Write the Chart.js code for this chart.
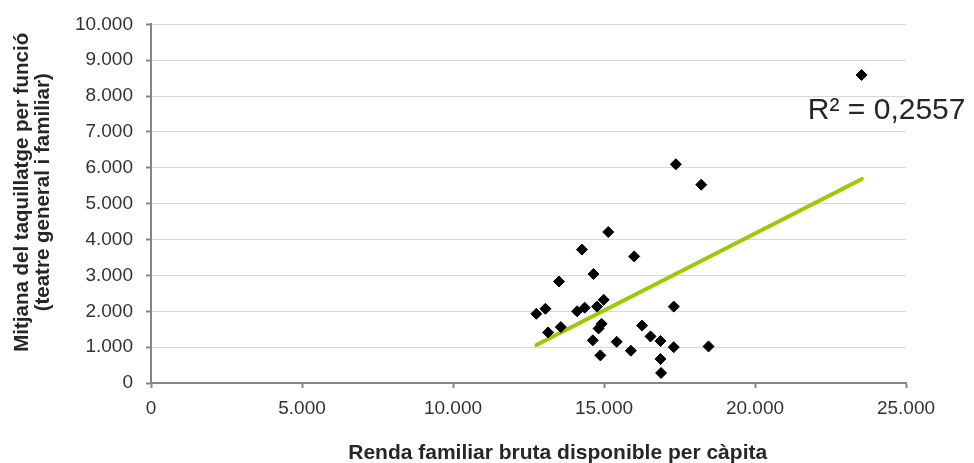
<!DOCTYPE html>
<html>
<head>
<meta charset="utf-8">
<script src="https://cdn.jsdelivr.net/npm/chart.js@4/dist/chart.umd.min.js"></script>
<style>
  html, body { margin: 0; padding: 0; background: #fff; }
  #wrap { width: 974px; height: 463px; }
</style>
</head>
<body>
<div id="wrap"><canvas id="scatterChart"></canvas></div>
<script>
// --- data ---
const renda = [23530, 17380, 18220, 15140, 14270, 16000, 14650, 13510, 12760, 13060,
               14110, 14360, 14770, 14990, 17310, 13150, 13570, 14920, 14820, 16260,
               14630, 15420, 16540, 16870, 17310, 18460, 14880, 15890, 16870, 16890];
const taquillatge = [8590, 6100, 5530, 4210, 3720, 3530, 3040, 2830, 1930, 2070,
                     2000, 2100, 2130, 2320, 2130, 1410, 1560, 1650, 1520, 1600,
                     1190, 1150, 1300, 1170, 1000, 1020, 770, 900, 670, 280];
const trendX = [12760, 23540];
const trendY = [1060, 5690];
const xTicks = [0, 5000, 10000, 15000, 20000, 25000];
const yTicks = [0, 1000, 2000, 3000, 4000, 5000, 6000, 7000, 8000, 9000, 10000];
const r2Label = 'R² = 0,2557';
const r2At = [21750, 7590];

const FONT = "'Liberation Sans', Arial, sans-serif";

function fmt(v) {
    return String(v).replace(/\B(?=(\d{3})+(?!\d))/g, '.');
}

document.addEventListener('DOMContentLoaded', function () {
    const ctx = document.getElementById('scatterChart');

    const points = renda.map((x, i) => ({ x: x, y: taquillatge[i] }));
    const trend = trendX.map((x, i) => ({ x: x, y: trendY[i] }));

    // R² text, placed in data coordinates
    const r2Plugin = {
        id: 'r2Label',
        afterDatasetsDraw(chart) {
            const c = chart.ctx;
            const px = chart.scales.x.getPixelForValue(r2At[0]);
            const py = chart.scales.y.getPixelForValue(r2At[1]);
            c.save();
            c.font = '30px ' + FONT;
            c.fillStyle = '#262626';
            c.textAlign = 'left';
            c.textBaseline = 'middle';
            c.fillText(r2Label, px, py);
            c.restore();
        }
    };

    new Chart(ctx, {
        type: 'scatter',
        data: {
            datasets: [{
                label: 'Municipis',
                data: points,
                pointStyle: 'rectRot',
                pointRadius: 5.5,
                pointHoverRadius: 5.5,
                backgroundColor: '#000',
                borderColor: '#000',
                borderWidth: 1,
                order: 0
            }, {
                label: 'Tendència',
                data: trend,
                showLine: true,
                borderColor: '#99cc00',
                borderWidth: 4,
                pointRadius: 0,
                borderCapStyle: 'round',
                fill: false,
                order: 1
            }]
        },
        options: {
            responsive: true,
            maintainAspectRatio: false,
            animation: false,
            layout: { padding: { left: 0, right: 68, top: 21, bottom: 0 } },
            plugins: {
                legend: { display: false },
                tooltip: { enabled: false }
            },
            scales: {
                x: {
                    type: 'linear',
                    min: 0,
                    max: 25000,
                    afterBuildTicks: axis => { axis.ticks = xTicks.map(v => ({ value: v })); },
                    afterFit: axis => { axis.height = 80; },
                    grid: {
                        drawOnChartArea: false,
                        tickLength: 5,
                        tickColor: '#868686',
                        tickWidth: 2
                    },
                    border: { color: '#868686', width: 2 },
                    ticks: {
                        padding: 9,
                        color: '#333',
                        font: { family: FONT, size: 19 },
                        callback: v => fmt(v)
                    },
                    title: {
                        display: true,
                        // leading spaces push the centred title a bit to the right, as in the original
                        text: '          Renda familiar bruta disponible per càpita',
                        color: '#262626',
                        font: { family: FONT, size: 21, weight: 'bold', lineHeight: 1.1 },
                        padding: { top: 0, bottom: -2 }
                    }
                },
                y: {
                    type: 'linear',
                    min: 0,
                    max: 10000,
                    afterBuildTicks: axis => { axis.ticks = yTicks.map(v => ({ value: v })); },
                    afterFit: axis => { axis.width = 151; },
                    grid: {
                        color: '#d9d9d9',
                        lineWidth: 1,
                        tickLength: 5,
                        tickColor: '#868686',
                        tickWidth: 2
                    },
                    border: { color: '#868686', width: 2 },
                    ticks: {
                        padding: 13,
                        color: '#333',
                        font: { family: FONT, size: 19 },
                        callback: v => fmt(v)
                    },
                    title: {
                        display: true,
                        // leading spaces nudge the centred title slightly upwards, as in the original
                        text: ['    Mitjana del taquillatge per funció', '    (teatre general i familiar)'],
                        color: '#262626',
                        font: { family: FONT, size: 20.5, weight: 'bold', lineHeight: 1.03 },
                        padding: { top: 12, bottom: 0 }
                    }
                }
            }
        },
        plugins: [r2Plugin]
    });
});
</script>
</body>
</html>
